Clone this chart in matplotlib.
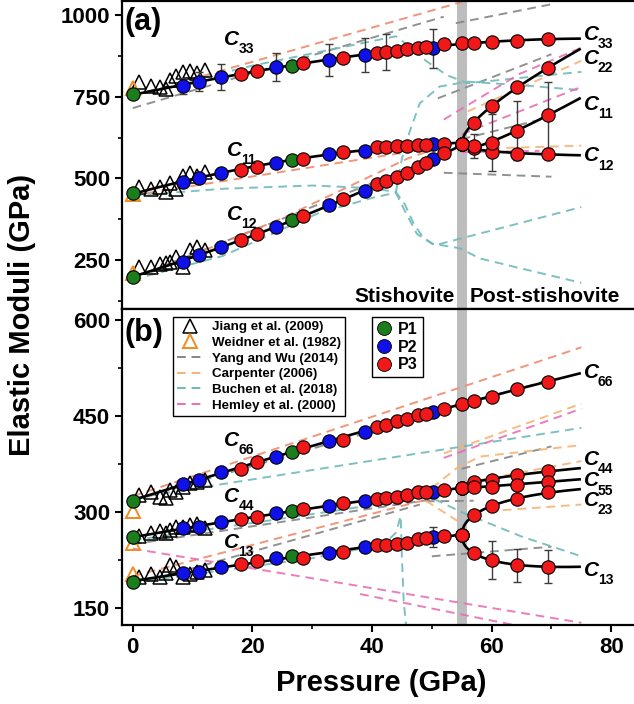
import numpy as np
import matplotlib
matplotlib.use("Agg")
import matplotlib.pyplot as plt
from matplotlib.lines import Line2D

plt.rcParams["font.family"] = ["Liberation Sans", "DejaVu Sans"]
plt.rcParams["font.weight"] = "bold"
plt.rcParams["axes.linewidth"] = 1.6

# ── Measured elastic moduli (GPa) ─────────────────────────────────────────────
pressure = [0.0, 8.4, 11.0, 14.7, 18.1, 20.7, 23.9, 26.6, 28.4, 32.8, 35.1, 38.8, 40.8,
            42.3, 44.1, 45.8, 47.7, 49.0, 50.2, 52.0, 55.0, 57.0, 60.0, 64.2, 69.4]
run = ["P1", "P2", "P2", "P2", "P3", "P3", "P2", "P1", "P3", "P2", "P3", "P2", "P3",
       "P3", "P3", "P3", "P3", "P3", "P2", "P3", "P3", "P3", "P3", "P3", "P3"]
P_TRANS = 55.0
N_STV = 21          # points up to and including the transition
P_END = 74.7

c33 = [757, 783, 796, 809, 819, 829, 842, 844, 854, 862, 869, 878, 885,
       888, 891, 895, 900, 901, 898, 910, 915, 915, 916, 921, 927]
c33_err = [0, 25, 30, 40, 0, 0, 43, 0, 0, 50, 0, 52, 0,
           55, 0, 0, 0, 0, 59, 0, 0, 0, 0, 0, 0]
c11_stv = [456, 490, 500, 517, 526, 536, 546, 556, 560, 574, 581, 585, 595,
           597, 599, 599, 602, 602, 605, 605, 605]
c12_stv = [199, 245, 265, 291, 311, 329, 352, 372, 384, 418, 436, 462, 482,
           492, 505, 517, 536, 548, 558, 578, 605]
c22_post = [605, 670, 721, 779, 837]
c11_post = [605, 599, 609, 646, 694]
c11_post_err = [0, 38, 88, 90, 100]
c12_post = [605, 593, 582, 575, 575]

c66 = [318, 344, 351, 363, 368, 379, 387, 394, 402, 411, 413, 426, 434,
       437, 442, 446, 452, 454, 457, 462, 470, 474, 481, 493, 504]
c44_stv = [261, 275, 277, 285, 289, 292, 298, 302, 305, 309, 314, 318, 321,
           322, 324, 327, 331, 332, 332, 334, 338]
c13_stv = [191, 205, 207, 215, 219, 223, 228, 232, 229, 236, 237, 246, 249,
           249, 250, 252, 258, 259, 261, 263, 264]
c13_stv_err = [0] * 18 + [16, 0, 0]
c44_post = [338, 348, 351, 358, 364]
c55_post = [338, 340, 340, 343, 348]
c23_post = [264, 296, 310, 320, 331]
c13_post = [264, 236, 225, 217, 215]
c13_post_err = [0, 0, 30, 26, 26]

# ── Literature values ─────────────────────────────────────────────────────────
jiang_p = [1.1, 3.0, 4.5, 5.6, 6.3, 7.3, 8.4, 9.5, 10.7, 12.0]
jiang_c33 = [796, 783, 779, 773, 801, 813, 826, 830, 823, 832]
jiang_c11 = [474, 466, 472, 459, 485, 466, 507, 515, 507, 520]
jiang_c12 = [230, 230, 238, 240, 245, 258, 230, 281, 291, 281]
jiang_c66 = [327, 331, 324, 322, 335, 332, 340, 345, 348, 350]
jiang_c44 = [262, 268, 270, 267, 272, 277, 277, 280, 282, 275]
jiang_c13 = [199, 204, 199, 205, 217, 215, 199, 204, 207, 210]

weidner_top = [776, 453, 211]     # C33, C11, C12 at 0 GPa
weidner_bot = [302, 252, 203]     # C66, C44, C13 at 0 GPa

yang_top = [([0, 52], [715, 995]), ([54, 70], [975, 1033]), ([51, 70], [745, 880]),
            ([55, 70], [620, 688]), ([0, 52], [195, 572]), ([52, 70], [517, 505])]
stv_top = [([0, 55], [752, 1040]), ([0, 52], [448, 598]),
           ([3, 25, 46, 52], [212, 378, 561, 600])]
carpenter_top = [([56, 75], [705, 860]), ([60, 75], [592, 600])]
hemley_top = [([52, 64.7, 75], [680, 820, 900]), ([55, 75], [635, 780]),
              ([55, 68], [580, 584])]
buchen_top = [
    ([0, 20, 44, 46.3, 49, 52.5, 56, 65, 75], [755, 845, 935, 903, 860, 816, 791, 808, 826]),
    ([44, 45, 46.3, 48, 51.3, 56, 65, 75], [458, 560, 643, 730, 781, 796, 785, 770]),
    ([0, 15, 30, 40, 44, 45.5, 47, 48.5, 50.5, 75],
     [447, 468, 478, 470, 458, 420, 360, 320, 295, 412]),
    ([0, 15, 31, 40, 44, 45.5, 47.5, 50, 54.7, 58, 63.6, 75],
     [190, 262, 393, 440, 456, 400, 330, 300, 286, 255, 230, 180]),
]

yang_bot = [([0, 70], [318, 508]), ([0, 50], [250, 320]), ([0, 48], [186, 312]),
            ([49, 57], [317, 318]), ([55, 70], [368, 403]), ([50, 70], [231, 246])]
stv_bot = [([0, 75], [325, 558]), ([0, 50], [200, 322])]
carpenter_bot = [([52, 75], [392, 470]), ([48, 51, 54, 58, 75], [325, 345, 368, 387, 405]),
                 ([49, 52, 55], [318, 300, 282]), ([57, 75], [300, 312]),
                 ([55, 75], [345, 380])]
hemley_bot = [([0, 75], [243, 127]), ([38, 64], [172, 123]), ([52, 75], [385, 462])]
buchen_bot = [
    ([0, 75], [322, 432]),
    ([0, 25, 45, 49, 55, 65, 75], [256, 290, 318, 327, 300, 262, 231]),
    ([0, 30, 42, 44, 44.8, 45.0, 45.3, 45.7], [190, 228, 250, 268, 294, 230, 160, 123]),
]

# ── Styles ────────────────────────────────────────────────────────────────────
RUN_COLORS = {"P1": "#1b7d1b", "P2": "#1010e8", "P3": "#f01818"}
GRAY = "#858585"
SALMON = "#ef8a6a"
ORANGE = "#f6b474"
TEAL = "#70baba"
PINK = "#ea6fb4"
WEIDNER = "#f28c1e"
DASH = (0, (4.5, 3))

pressure = np.array(pressure)
run = np.array(run)
p_stv = pressure[:N_STV]
p_post = pressure[N_STV - 1:]


def draw_lit(ax, lines, color):
    for px, cy in lines:
        ax.plot(px, cy, color=color, ls=DASH, lw=1.4, alpha=0.9, zorder=1)


def draw_points(ax, p, vals, runs, err=None):
    vals = np.asarray(vals, dtype=float)
    if err is not None:
        err = np.asarray(err, dtype=float)
        m = err > 0
        ax.errorbar(p[m], vals[m], yerr=err[m], fmt="none", ecolor="#3c3c3c",
                    elinewidth=1.0, capsize=3, capthick=1.0, zorder=3.5)
    for r, col in RUN_COLORS.items():
        m = runs == r
        ax.plot(p[m], vals[m], "o", ms=9.6, mfc=col, mec="black", mew=0.8,
                ls="none", zorder=5)


def poly_curve(p, vals, deg, p0, p1):
    coef = np.polyfit(p, vals, deg)
    grid = np.linspace(p0, p1, 200)
    return grid, np.polyval(coef, grid)


def landau_curve(p, vals):
    # c0 + b*sqrt(P-Pc) + c*(P-Pc), anchored at the transition point
    p = np.asarray(p, dtype=float)
    vals = np.asarray(vals, dtype=float)
    s = np.sqrt(p - P_TRANS)
    A = np.column_stack([s, s ** 2])
    coef, *_ = np.linalg.lstsq(A, vals - vals[0], rcond=None)
    grid = np.linspace(P_TRANS, P_END, 200)
    sg = np.sqrt(grid - P_TRANS)
    return grid, vals[0] + coef[0] * sg + coef[1] * sg ** 2


def fit_line(ax, xy):
    ax.plot(*xy, color="black", lw=1.9, zorder=4)


def modulus_label(ax, x, y, sub):
    ax.text(x, y, "C", fontsize=15, fontstyle="italic", fontweight="bold",
            ha="center", va="center", zorder=6)
    ax.annotate(sub, xy=(x, y), xytext=(4.5, -7), textcoords="offset points",
                fontsize=10, fontweight="bold", ha="left", va="center", zorder=6)


fig = plt.figure(figsize=(6.34, 7.04), dpi=100)
ax_a = fig.add_axes([0.1924, 0.5611, 0.8076, 0.4375])
ax_b = fig.add_axes([0.1924, 0.1122, 0.8076, 0.4489])

for ax in (ax_a, ax_b):
    ax.axvspan(54.2, 55.8, color="#bdbdbd", lw=0, zorder=0.5)
    ax.set_xlim(-1.8, 83.8)
    ax.set_xticks([0, 20, 40, 60, 80])
    ax.set_xticks([10, 30, 50, 70], minor=True)
    ax.tick_params(which="major", direction="out", length=5, width=1.5, labelsize=16)
    ax.tick_params(which="minor", direction="out", length=3, width=1.2)
    ax.spines["right"].set_visible(False)

# ══════════════════════════════════════════════════════════════════════════════
# (a) C33, C11, C12, C22
# ══════════════════════════════════════════════════════════════════════════════
draw_lit(ax_a, yang_top, GRAY)
draw_lit(ax_a, stv_top, SALMON)
draw_lit(ax_a, carpenter_top, ORANGE)
draw_lit(ax_a, buchen_top, TEAL)
draw_lit(ax_a, hemley_top, PINK)

for vals in (jiang_c33, jiang_c11, jiang_c12):
    ax_a.plot(jiang_p, vals, "^", ms=10, mfc="none", mec="black", mew=1.1, ls="none", zorder=2)
ax_a.plot([0] * len(weidner_top), weidner_top, "^", ms=10, mfc="none", mec=WEIDNER,
          mew=1.4, ls="none", zorder=2)

fit_line(ax_a, poly_curve(pressure, c33, 3, 0, P_END))
fit_line(ax_a, poly_curve(p_stv, c11_stv, 2, 0, P_TRANS))
fit_line(ax_a, poly_curve(p_stv, c12_stv, 2, 0, P_TRANS))
fit_line(ax_a, landau_curve(p_post, c22_post))
fit_line(ax_a, landau_curve(p_post, c11_post))
fit_line(ax_a, landau_curve(p_post, c12_post))

runs_stv = run[:N_STV]
runs_post = run[N_STV - 1:]
draw_points(ax_a, pressure, c33, run, c33_err)
draw_points(ax_a, p_stv, c11_stv, runs_stv)
draw_points(ax_a, p_stv, c12_stv, runs_stv)
draw_points(ax_a, p_post, c12_post, runs_post)
draw_points(ax_a, p_post, c11_post, runs_post, c11_post_err)
draw_points(ax_a, p_post, c22_post, runs_post)

for sub, x, y in [("33", 16.6, 925), ("11", 17.1, 585), ("12", 17.1, 389),
                  ("33", 76.7, 940), ("22", 76.7, 867), ("11", 76.7, 726), ("12", 76.7, 569)]:
    modulus_label(ax_a, x, y, sub)

ax_a.set_ylim(100, 1043)
ax_a.set_yticks([250, 500, 750, 1000])
ax_a.set_yticks([125, 375, 625, 875], minor=True)
ax_a.tick_params(axis="x", labelbottom=False)
ax_a.text(-1.4, 979, "(a)", fontsize=22, fontweight="bold", ha="left", va="center")
ax_a.text(53.8, 137, "Stishovite", fontsize=15, fontweight="bold", ha="right", va="center")
ax_a.text(56.4, 137, "Post-stishovite", fontsize=15, fontweight="bold", ha="left", va="center")

# ══════════════════════════════════════════════════════════════════════════════
# (b) C66, C44, C55, C13, C23
# ══════════════════════════════════════════════════════════════════════════════
draw_lit(ax_b, yang_bot, GRAY)
draw_lit(ax_b, stv_bot, SALMON)
draw_lit(ax_b, carpenter_bot, ORANGE)
draw_lit(ax_b, buchen_bot, TEAL)
draw_lit(ax_b, hemley_bot, PINK)

for vals in (jiang_c66, jiang_c44, jiang_c13):
    ax_b.plot(jiang_p, vals, "^", ms=10, mfc="none", mec="black", mew=1.1, ls="none", zorder=2)
ax_b.plot([0] * len(weidner_bot), weidner_bot, "^", ms=10, mfc="none", mec=WEIDNER,
          mew=1.4, ls="none", zorder=2)

fit_line(ax_b, poly_curve(pressure, c66, 3, 0, P_END))
fit_line(ax_b, poly_curve(p_stv, c44_stv, 2, 0, P_TRANS))
fit_line(ax_b, poly_curve(p_stv, c13_stv, 2, 0, P_TRANS))
fit_line(ax_b, landau_curve(p_post, c44_post))
fit_line(ax_b, landau_curve(p_post, c55_post))
fit_line(ax_b, landau_curve(p_post, c23_post))
fit_line(ax_b, landau_curve(p_post, c13_post))

draw_points(ax_b, pressure, c66, run)
draw_points(ax_b, p_stv, c44_stv, runs_stv)
draw_points(ax_b, p_stv, c13_stv, runs_stv, c13_stv_err)
draw_points(ax_b, p_post, c44_post, runs_post)
draw_points(ax_b, p_post, c55_post, runs_post)
draw_points(ax_b, p_post, c23_post, runs_post)
draw_points(ax_b, p_post, c13_post, runs_post, c13_post_err)

for sub, x, y in [("66", 16.6, 412), ("44", 16.6, 325), ("13", 16.6, 253),
                  ("66", 76.7, 519), ("44", 76.7, 383), ("55", 76.7, 349),
                  ("23", 76.7, 318), ("13", 76.7, 209)]:
    modulus_label(ax_b, x, y, sub)

ax_b.set_ylim(123.5, 618)
ax_b.set_yticks([150, 300, 450, 600])
ax_b.set_yticks([225, 375, 525], minor=True)
ax_b.text(-1.4, 581, "(b)", fontsize=22, fontweight="bold", ha="left", va="center")

lit_handles = [
    Line2D([], [], ls="none", marker="^", ms=10, mfc="none", mec="black", mew=1.1,
           label="Jiang et al. (2009)"),
    Line2D([], [], ls="none", marker="^", ms=10, mfc="none", mec=WEIDNER, mew=1.4,
           label="Weidner et al. (1982)"),
    Line2D([], [], color=GRAY, ls=DASH, lw=1.4, label="Yang and Wu (2014)"),
    Line2D([], [], color=ORANGE, ls=DASH, lw=1.4, label="Carpenter (2006)"),
    Line2D([], [], color=TEAL, ls=DASH, lw=1.4, label="Buchen et al. (2018)"),
    Line2D([], [], color=PINK, ls=DASH, lw=1.4, label="Hemley et al. (2000)"),
]
leg1 = ax_b.legend(handles=lit_handles, loc="upper left", bbox_to_anchor=(0.0996, 0.975),
                   borderaxespad=0, frameon=True, fancybox=False, edgecolor="black",
                   framealpha=1, prop={"weight": "bold", "size": 9.6}, handlelength=2.0,
                   handletextpad=0.6, labelspacing=0.25, borderpad=0.3)
leg1.get_frame().set_linewidth(1.0)
ax_b.add_artist(leg1)

run_handles = [Line2D([], [], ls="none", marker="o", ms=10, mfc=c, mec="black", mew=0.6,
                      label=r) for r, c in RUN_COLORS.items()]
leg2 = ax_b.legend(handles=run_handles, loc="upper left", bbox_to_anchor=(0.488, 0.975),
                   borderaxespad=0, frameon=True, fancybox=False, edgecolor="black",
                   framealpha=1, prop={"weight": "bold", "size": 11.5}, handlelength=0.9,
                   handletextpad=0.45, labelspacing=0.18, borderpad=0.3)
leg2.get_frame().set_linewidth(1.0)

fig.text(0.035, 0.553, "Elastic Moduli (GPa)", rotation=90, fontsize=21,
         fontweight="bold", ha="center", va="center")
fig.text(0.602, 0.03, "Pressure (GPa)", fontsize=21, fontweight="bold",
         ha="center", va="center")

fig.savefig("out.png", dpi=100)
